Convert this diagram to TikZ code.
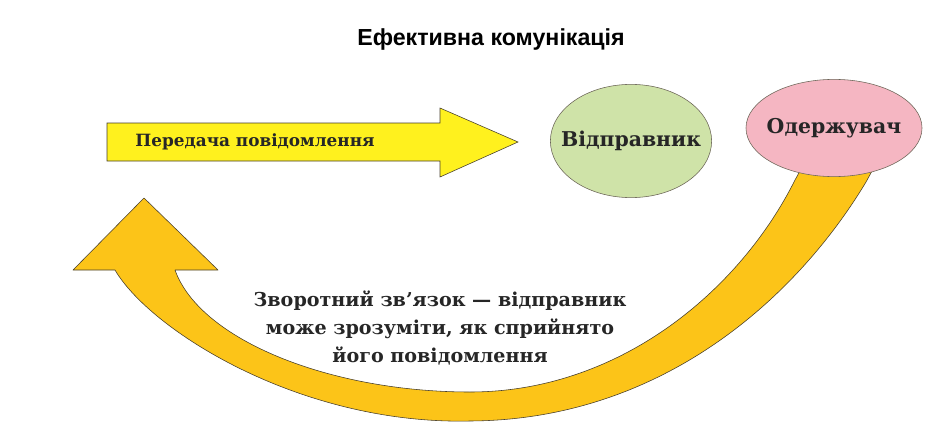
\documentclass[tikz,border=0pt]{standalone}
\usepackage{fontspec}
\setmainfont{DejaVu Serif}
\newfontfamily\headfont{Liberation Sans}
\usetikzlibrary{shapes.geometric, positioning}

\definecolor{msgyellow}{RGB}{255,241,30}
\definecolor{backorange}{RGB}{252,196,24}
\definecolor{sendgreen}{RGB}{207,227,168}
\definecolor{recvpink}{RGB}{245,182,194}
\definecolor{edgegray}{RGB}{70,62,45}

\begin{document}
\begin{tikzpicture}[
    x=0.025cm, y=-0.025cm,
    party/.style={
        draw=edgegray!80, ellipse, thin, inner sep=0pt
    },
    partytext/.style={
        font=\bfseries\fontsize{14.5}{16}\selectfont, text=black!85
    },
    msgarrow/.style={draw=edgegray, fill=msgyellow, thin, line join=miter},
    backarrow/.style={draw=edgegray, fill=backorange, thin, line join=round},
    notetext/.style={
        align=center, text=black!85,
        font=\bfseries\fontsize{13.6}{20}\selectfont
    }
]
\useasboundingbox (0,0) rectangle (940,440);

% ==========================================
% TITLE
% ==========================================

\node[font=\headfont\bfseries\fontsize{16.5}{19}\selectfont] (title) at (491,40) {Ефективна комунікація};

% ==========================================
% MESSAGE ARROW
% ==========================================

\draw[msgarrow] (107,123) -- (440,123) -- (440,108) -- (518,142)
    -- (440,177) -- (440,161) -- (107,161) -- cycle;
\node[font=\bfseries\fontsize{12}{14}\selectfont, text=black!85] (message) at (255,142) {Передача повідомлення};

% ==========================================
% FEEDBACK ARROW
% ==========================================

% outer edge, arrow head, then inner edge back up under the receiver
\draw[backarrow] (878,160) -- (866,182)
    .. controls (795,300) and (660,420) .. (470,421)
    .. controls (300,425) and (150,330) .. (115,270)
    -- (73,270) -- (144,198) -- (218,270) -- (175,270)
    .. controls (200,340) and (330,392) .. (470,392)
    .. controls (620,392) and (740,290) .. (795,180)
    -- (806,160) -- cycle;

\node[notetext] (feedback) at (440,328) {Зворотний зв’язок — відправник \\ може зрозуміти, як сприйнято \\ його повідомлення};

% ==========================================
% SENDER AND RECEIVER
% ==========================================

\node[party, fill=sendgreen, minimum width=4.03cm, minimum height=2.83cm,
    label={[partytext]center:Відправник}] (sender) at (631,141) {};
\node[party, fill=recvpink, minimum width=4.4cm, minimum height=2.43cm,
    label={[partytext]center:Одержувач}] (receiver) at (834,128) {};

\end{tikzpicture}
\end{document}
